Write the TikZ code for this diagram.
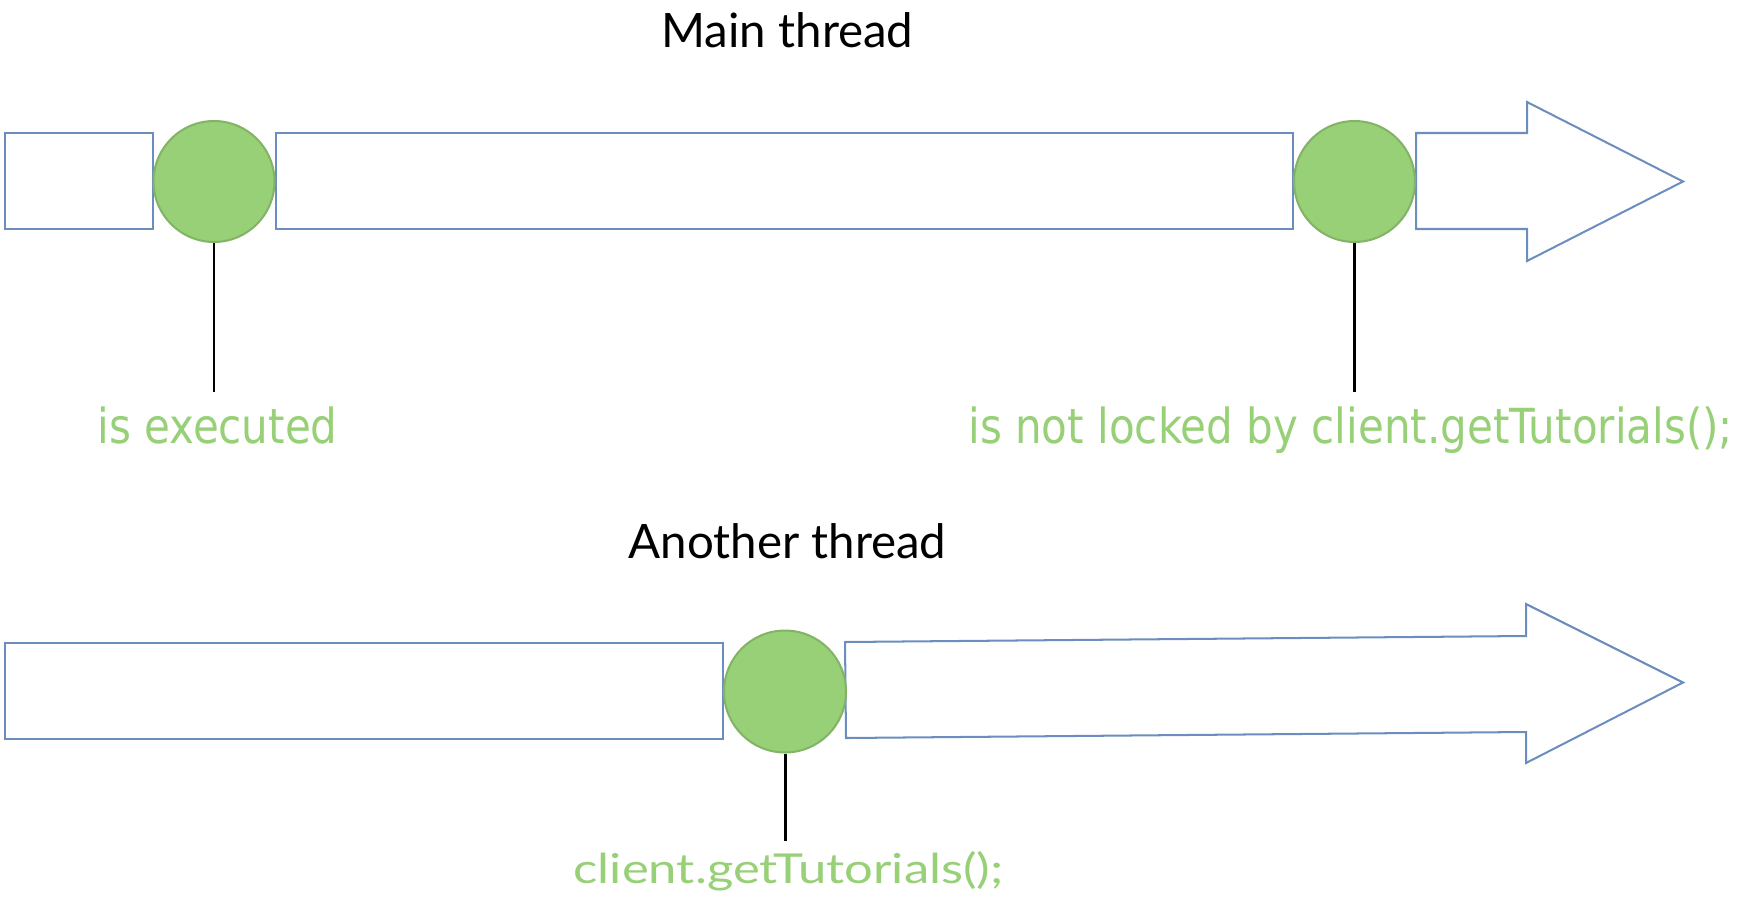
\documentclass[tikz,border=0pt]{standalone}
\usepackage{fontspec}
\setmainfont{Lato}
\newfontfamily\labelfont{DejaVu Sans}
\usetikzlibrary{positioning}
\definecolor{cblue}{HTML}{6C8EBF}
\definecolor{cgreen}{HTML}{97D077}
\definecolor{cgreendark}{HTML}{82B366}
\tikzset{
  lane/.style={draw=cblue, line width=1.15pt, line join=miter},
  event/.style={circle, draw=cgreendark, fill=cgreen, line width=1.15pt, inner sep=0pt, minimum size=2.42cm},
  tick/.style={draw=black, line width=1.7pt},
  title/.style={font=\fontsize{27}{30}\selectfont, inner sep=0pt, anchor=base},
  note/.style={font=\fontsize{23.5}{26}\selectfont, text=cgreen, inner sep=0pt, anchor=base},
  squeezed/.style={font=\labelfont\fontsize{27.5}{30}\selectfont, text=cgreen, inner sep=0pt, anchor=base west},
}
\newcommand{\narrow}[1]{\scalebox{0.87}[1]{#1}}
\newcommand{\wide}[1]{\scalebox{1.23}[1]{#1}}

\begin{document}
\begin{tikzpicture}[x=0.02cm, y=-0.02cm]
  \useasboundingbox (0,0) rectangle (1746,903);

  % main thread
  \node[title] (tmain) at (787.5,47) {Main thread};
  \draw[lane] (5,133) rectangle (153,229);
  \draw[lane] (276,133) rectangle (1293,229);
  \draw[lane] (1416,133) -- (1527,133) -- (1527,102) -- (1683,181.5)
    -- (1527,261) -- (1527,229) -- (1416,229) -- cycle;
  \node[event] (exec) at (214,181.5) {};
  \node[event] (free) at (1354.5,181.5) {};
  \coordinate (exec end) at (214,392);
  \coordinate (free end) at (1354.5,392);
  \draw[tick] (exec.south) -- (exec end);
  \draw[tick] (free.south) -- (free end);
  \node[squeezed] (lexec) at (97,443) {\narrow{is executed}};
  \node[squeezed] (lfree) at (968,443) {\narrow{is not locked by client.getTutorials();}};

  % another thread
  \node[title] (tother) at (787.5,558) {Another thread};
  \draw[lane] (5,643) rectangle (723,739);
  \draw[lane] (845,642) -- (1526,636) -- (1526,604) -- (1683,682.5)
    -- (1526,763) -- (1526,732) -- (846,738) -- cycle;
  \node[event, minimum size=2.44cm] (call) at (785,691.5) {};
  \coordinate (call end) at (785,841);
  \draw[tick] (call.south) -- (call end);
  \node[note] (lcall) at (788.5,883) {\wide{client.getTutorials();}};
\end{tikzpicture}
\end{document}
